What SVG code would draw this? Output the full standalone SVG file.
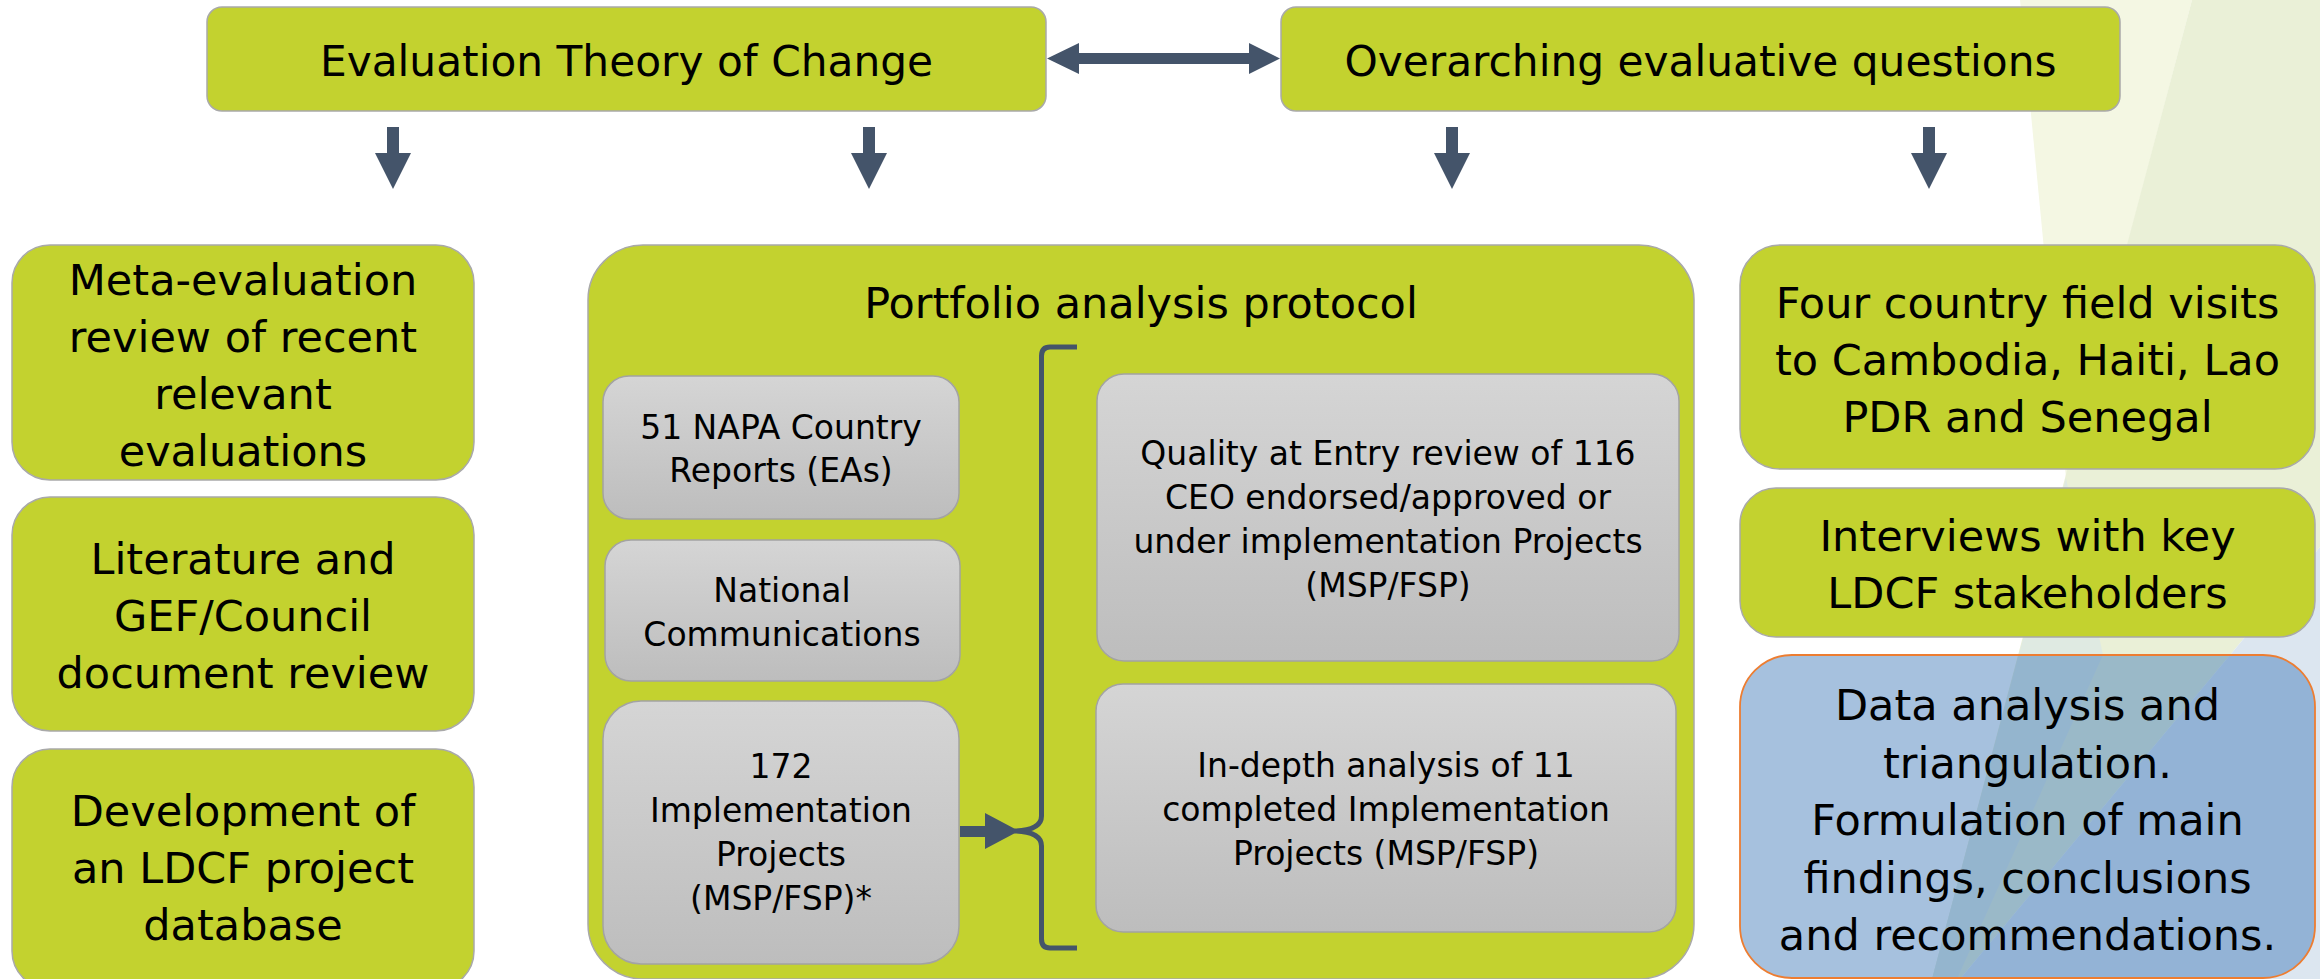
<svg xmlns="http://www.w3.org/2000/svg" xmlns:xlink="http://www.w3.org/1999/xlink" width="2320" height="979" viewBox="0 0 2320 979">
  <defs>
    <style>
      .green { fill: #c3d22f; stroke: #a9a9a9; stroke-width: 1.5; }
      .grey { fill: url(#greyGrad); stroke: #a3a3a3; stroke-width: 1.5; }
      .blue { fill: #3a76b6; fill-opacity: 0.45; stroke: #ed7d31; stroke-width: 1.8; }
      .big { font-family: "DejaVu Sans", "Liberation Sans", sans-serif; font-size: 43px; fill: #000; text-anchor: middle; }
      .title { font-family: "DejaVu Sans", "Liberation Sans", sans-serif; font-size: 42.3px; fill: #000; text-anchor: middle; }
      .small { font-family: "DejaVu Sans", "Liberation Sans", sans-serif; font-size: 33px; fill: #000; text-anchor: middle; }
      .arrow { fill: #44546a; }
      .brace { fill: none; stroke: #44546a; stroke-width: 5; stroke-linejoin: round; }
    </style>
    <linearGradient id="greyGrad" x1="0" y1="0" x2="0" y2="1">
      <stop offset="0" stop-color="#d5d5d5"/>
      <stop offset="1" stop-color="#bdbdbd"/>
    </linearGradient>
    <path id="dnArrow" d="M-6,0 H6 V26 H18 L0,62 L-18,26 H-6 Z"/>
  </defs>

  <!-- background -->
  <rect x="0" y="0" width="2320" height="979" fill="#ffffff"/>
  <g id="background-facets">
    <polygon points="2020,0 2192,0 2066,478" fill="#f4f7e3"/>
    <polygon points="2192,0 2320,0 2320,547 1960,979 1932,979" fill="#eaf0d7"/>
    <polygon points="2066,478 2103,655 1957,979 1932,979" fill="#dfeae2"/>
    <polygon points="2320,547 2320,979 1960,979" fill="#dce6f0"/>
  </g>

  <!-- top nodes -->
  <g id="node-etc">
    <rect class="green" x="207" y="7" width="839" height="104" rx="15"/>
    <text class="title" x="626.5" y="76">Evaluation Theory of Change</text>
  </g>
  <g id="node-oeq">
    <rect class="green" x="1281" y="7" width="839" height="104" rx="15"/>
    <text class="title" x="1700.5" y="76">Overarching evaluative questions</text>
  </g>

  <!-- left column -->
  <g id="node-meta">
    <rect class="green" x="12" y="245" width="462" height="235" rx="38"/>
    <text class="big" x="243" y="295">Meta-evaluation</text>
    <text class="big" x="243" y="352">review of recent</text>
    <text class="big" x="243" y="409">relevant</text>
    <text class="big" x="243" y="466">evaluations</text>
  </g>
  <g id="node-literature">
    <rect class="green" x="12" y="497" width="462" height="234" rx="38"/>
    <text class="big" x="243" y="574">Literature and</text>
    <text class="big" x="243" y="631">GEF/Council</text>
    <text class="big" x="243" y="688">document review</text>
  </g>
  <g id="node-database">
    <rect class="green" x="12" y="749" width="462" height="240" rx="38"/>
    <text class="big" x="243" y="826">Development of</text>
    <text class="big" x="243" y="883">an LDCF project</text>
    <text class="big" x="243" y="940">database</text>
  </g>

  <!-- portfolio -->
  <g id="node-portfolio">
    <rect class="green" x="588" y="245" width="1106" height="734" rx="55"/>
    <text class="big" x="1141" y="318">Portfolio analysis protocol</text>
  </g>
  <g id="node-napa">
    <rect class="grey" x="603" y="376" width="356" height="143" rx="26"/>
    <text class="small" x="781" y="439">51 NAPA Country</text>
    <text class="small" x="781" y="482">Reports (EAs)</text>
  </g>
  <g id="node-natcom">
    <rect class="grey" x="605" y="540" width="355" height="141" rx="26"/>
    <text class="small" x="782" y="602">National</text>
    <text class="small" x="782" y="646">Communications</text>
  </g>
  <g id="node-172">
    <rect class="grey" x="603" y="701" width="356" height="263" rx="38"/>
    <text class="small" x="781" y="778">172</text>
    <text class="small" x="781" y="822">Implementation</text>
    <text class="small" x="781" y="866">Projects</text>
    <text class="small" x="781" y="910">(MSP/FSP)*</text>
  </g>
  <g id="node-quality">
    <rect class="grey" x="1097" y="374" width="582" height="287" rx="27"/>
    <text class="small" x="1388" y="465">Quality at Entry review of 116</text>
    <text class="small" x="1388" y="509">CEO endorsed/approved or</text>
    <text class="small" x="1388" y="553">under implementation Projects</text>
    <text class="small" x="1388" y="597">(MSP/FSP)</text>
  </g>
  <g id="node-indepth">
    <rect class="grey" x="1096" y="684" width="580" height="248" rx="27"/>
    <text class="small" x="1386" y="777">In-depth analysis of 11</text>
    <text class="small" x="1386" y="821">completed Implementation</text>
    <text class="small" x="1386" y="865">Projects (MSP/FSP)</text>
  </g>

  <!-- right column -->
  <g id="node-field">
    <rect class="green" x="1740" y="245" width="575" height="224" rx="40"/>
    <text class="big" x="2027.5" y="318">Four country field visits</text>
    <text class="big" x="2027.5" y="375">to Cambodia, Haiti, Lao</text>
    <text class="big" x="2027.5" y="432">PDR and Senegal</text>
  </g>
  <g id="node-interviews">
    <rect class="green" x="1740" y="488" width="575" height="149" rx="36"/>
    <text class="big" x="2027.5" y="551">Interviews with key</text>
    <text class="big" x="2027.5" y="608">LDCF stakeholders</text>
  </g>
  <g id="node-data">
    <rect class="blue" x="1740" y="655" width="575" height="323" rx="52"/>
    <text class="big" x="2027.5" y="720">Data analysis and</text>
    <text class="big" x="2027.5" y="778">triangulation.</text>
    <text class="big" x="2027.5" y="835">Formulation of main</text>
    <text class="big" x="2027.5" y="893">findings, conclusions</text>
    <text class="big" x="2027.5" y="950">and recommendations.</text>
  </g>

  <!-- connectors -->
  <g id="connectors">
    <polygon class="arrow" points="1047,58.5 1079,43 1079,53 1249,53 1249,43 1280,58.5 1249,74 1249,64 1079,64 1079,74"/>
    <use href="#dnArrow" xlink:href="#dnArrow" class="arrow" x="393" y="127"/>
    <use href="#dnArrow" xlink:href="#dnArrow" class="arrow" x="869" y="127"/>
    <use href="#dnArrow" xlink:href="#dnArrow" class="arrow" x="1452" y="127"/>
    <use href="#dnArrow" xlink:href="#dnArrow" class="arrow" x="1929" y="127"/>
    <polygon class="arrow" points="960,826 985,826 985,813 1019,831 985,849 985,837 960,837"/>
    <path class="brace" d="M1077,347 L1050,347 Q1041.5,347 1041.5,356 L1041.5,816 Q1041.5,830 1015,831 Q1041.5,832 1041.5,846 L1041.5,939 Q1041.5,948 1050,948 L1077,948"/>
  </g>
</svg>
